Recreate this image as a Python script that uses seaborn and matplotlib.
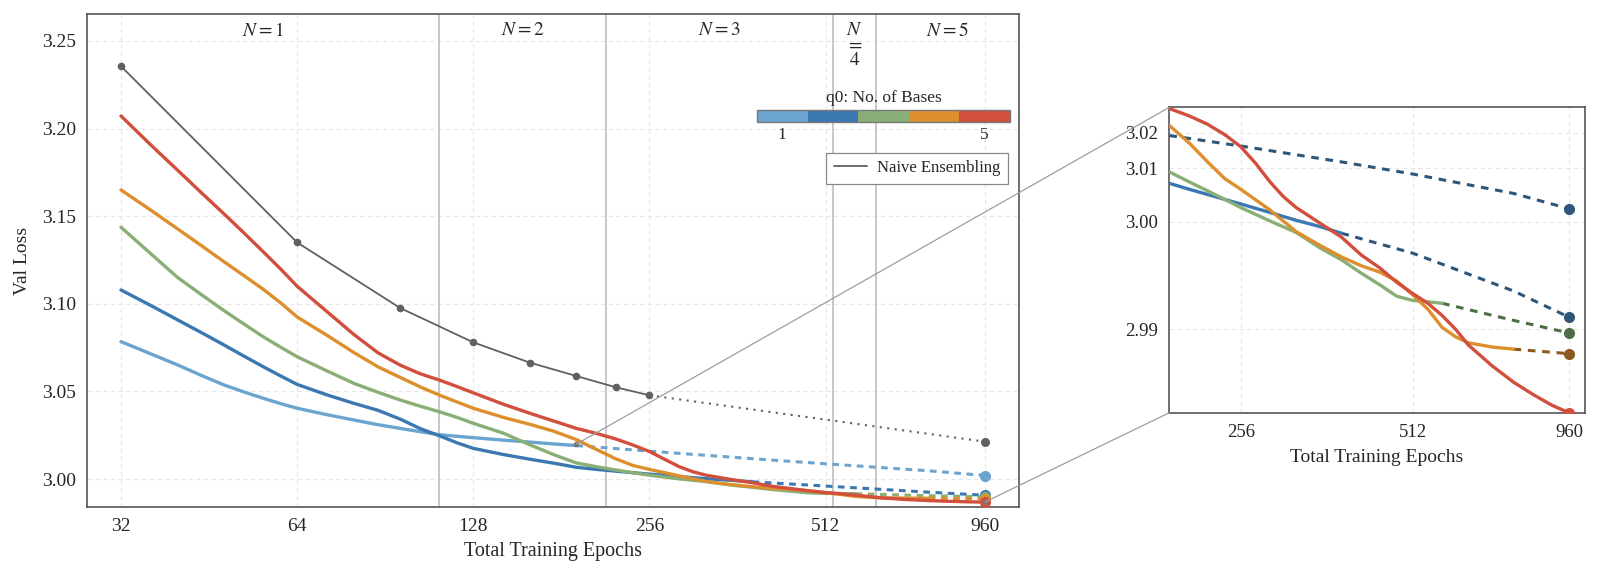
import numpy as np
import pandas as pd
import matplotlib
matplotlib.use("Agg")
import matplotlib.pyplot as plt
import seaborn as sns
from matplotlib.colors import ListedColormap, BoundaryNorm
from matplotlib.colorbar import ColorbarBase
from matplotlib.lines import Line2D
from matplotlib.patches import ConnectionPatch
from matplotlib.ticker import FixedLocator, FixedFormatter, NullLocator

# ---------------- data ----------------
xticks = [32, 64, 128, 256, 512, 960]
yticks_main = [3.00, 3.05, 3.10, 3.15, 3.20, 3.25]
yticks_inset = [2.99, 3.00, 3.01, 3.02]
region_bounds = [112, 216, 528, 624]
region_labels = ["$N=1$", "$N=2$", "$N=3$", "$N=4$", "$N=5$"]

naive_x = [32, 64, 96, 128, 160, 192, 224, 256]
naive_y = [3.2356, 3.1350, 3.0976, 3.0780, 3.0664, 3.0588, 3.0524, 3.0478]
naive_ext_x = [256, 960]
naive_ext_y = [3.0478, 3.0213]

ep_early = [32, 36, 40, 44, 48, 52, 56, 60, 64, 72, 80, 88, 96, 104, 112, 120, 128, 144, 160, 176, 192]
ep_late = [208, 224, 240, 256, 272, 288, 304, 320, 352, 384, 416, 448, 480, 512, 544, 576,
           608, 640, 704, 768, 832, 896, 960]

q1_x = ep_early
q1_y = [3.0784, 3.0714, 3.0651, 3.0590, 3.0537, 3.0496, 3.0461, 3.0430, 3.0404, 3.0367, 3.0337,
        3.0310, 3.0289, 3.0270, 3.0253, 3.0244, 3.0236, 3.0222, 3.0211, 3.0200, 3.0191]
q1_ext_x = [192, 256, 384, 512, 768, 960]
q1_ext_y = [3.0191, 3.0159, 3.0116, 3.0087, 3.0047, 3.0020]

q2_x = ep_early + [208, 224, 240, 256, 288, 320, 352, 384]
q2_y = [3.1079, 3.0990, 3.0908, 3.0834, 3.0765, 3.0700, 3.0641, 3.0588, 3.0540, 3.0480, 3.0432,
        3.0392, 3.0342, 3.0287, 3.0247, 3.0207, 3.0175, 3.0140, 3.0113, 3.0090, 3.0067,
        3.0055, 3.0045, 3.0036, 3.0028, 3.0014, 3.0002, 2.9993, 2.9984]
q2_ext_x = [384, 512, 768, 960]
q2_ext_y = [2.9984, 2.9960, 2.9925, 2.9907]

q3_x = ep_early + [208, 224, 240, 256, 288, 320, 352, 384, 416, 448, 480, 512, 544, 576]
q3_y = [3.1437, 3.1285, 3.1150, 3.1050, 3.0961, 3.0883, 3.0812, 3.0752, 3.0698, 3.0617, 3.0546,
        3.0495, 3.0451, 3.0415, 3.0384, 3.0352, 3.0318, 3.0262, 3.0195, 3.0138, 3.0092,
        3.0070, 3.0052, 3.0036, 3.0022, 3.0001, 2.9985, 2.9966, 2.9953, 2.9940, 2.9930,
        2.9921, 2.9918, 2.9917, 2.9916]
q3_ext_x = [576, 768, 960]
q3_ext_y = [2.9916, 2.9905, 2.9898]

q4_x = ep_early + [208, 224, 240, 256, 288, 320, 352, 384, 416, 448, 480, 512, 544, 576, 608,
                   640, 704, 768]
q4_y = [3.1650, 3.1534, 3.1427, 3.1330, 3.1240, 3.1159, 3.1083, 3.1005, 3.0925, 3.0820, 3.0722,
        3.0640, 3.0580, 3.0525, 3.0479, 3.0440, 3.0404, 3.0352, 3.0312, 3.0272, 3.0225,
        3.0168, 3.0116, 3.0077, 3.0055, 3.0018, 2.9986, 2.9969, 2.9956, 2.9947, 2.9941,
        2.9933, 2.9922, 2.9912, 2.9901, 2.9896, 2.9893, 2.9891, 2.9890]
q4_ext_x = [768, 960]
q4_ext_y = [2.9890, 2.9888]

q5_x = ep_early + ep_late
q5_y = [3.2072, 3.1906, 3.1762, 3.1631, 3.1513, 3.1402, 3.1297, 3.1198, 3.1100, 3.0955, 3.0825,
        3.0720, 3.0650, 3.0600, 3.0565, 3.0528, 3.0492, 3.0427, 3.0375, 3.0330, 3.0289,
        3.0260, 3.0229, 3.0194, 3.0157, 3.0112, 3.0070, 3.0041, 3.0022, 2.9998, 2.9979,
        2.9958, 2.9945, 2.9932, 2.9923, 2.9916, 2.9908, 2.9900, 2.9892, 2.9883, 2.9877,
        2.9873, 2.9870, 2.9868]

series = [
    (q1_x, q1_y, q1_ext_x, q1_ext_y),
    (q2_x, q2_y, q2_ext_x, q2_ext_y),
    (q3_x, q3_y, q3_ext_x, q3_ext_y),
    (q4_x, q4_y, q4_ext_x, q4_ext_y),
    (q5_x, q5_y, [960], [2.9868]),
]
colors = ["#6BA4CE", "#3B78B2", "#8AAF76", "#DD8F2D", "#D24F3D"]
dark_colors = ["#2E5679", "#2E5679", "#4F6D46", "#8A5A1E", "#D24F3D"]
naive_color = "#606060"

# ---------------- style ----------------
sns.set_style("white")
plt.rcParams["font.family"] = ["Liberation Serif", "DejaVu Serif"]
plt.rcParams["mathtext.fontset"] = "stix"
plt.rcParams["axes.edgecolor"] = "#555555"

fig = plt.figure(figsize=(16, 5.77), dpi=100)
ax = fig.add_axes([0.0544, 0.1218, 0.5825, 0.8534])
axins = fig.add_axes([0.7308, 0.2847, 0.2598, 0.5293])

C = 2.984
def fwd(y):
    return np.log(np.clip(np.asarray(y, dtype=float) - C, 1e-9, None))
def inv(v):
    return np.exp(v) + C

for a in (ax, axins):
    a.set_xscale("log", base=2)
for a, ls in ((ax, 14), (axins, 13.5)):
    for s in a.spines.values():
        s.set_linewidth(1.2)
        s.set_color("#555555")
    a.grid(True, which="major", ls=(0, (4, 3)), color="#e6e6e6", lw=0.8)
    a.tick_params(axis="both", which="major", direction="out", length=4, width=1,
                  color="#555555", labelsize=ls, pad=4)
    a.set_axisbelow(True)

# region separators
for b in region_bounds:
    ax.axvline(b, color="#bdbdbd", lw=1.2, zorder=1)

# colored curves (main)
for (sx, sy, ex, ey), c in zip(series, colors):
    sns.lineplot(x=sx, y=sy, ax=ax, color=c, lw=2.4, estimator=None, sort=False, zorder=4)
    if len(ex) > 1:
        sns.lineplot(x=ex, y=ey, ax=ax, color=c, lw=2.2, ls=(0, (2.2, 1.8)),
                     estimator=None, sort=False, zorder=3)
    ax.plot([ex[-1]], [ey[-1]], "o", color=c, ms=7, zorder=5)

# naive ensembling
sns.lineplot(x=naive_x, y=naive_y, ax=ax, color=naive_color, lw=1.3, marker="o", ms=5.5,
             markeredgewidth=0, estimator=None, sort=False, zorder=4)
sns.lineplot(x=naive_ext_x, y=naive_ext_y, ax=ax, color=naive_color, lw=1.5, ls=(0, (1, 2.6)),
             estimator=None, sort=False, zorder=3)
ax.plot([naive_ext_x[-1]], [naive_ext_y[-1]], "o", color=naive_color, ms=5.5, zorder=5)

ax.set_xlim(28, 1096)
ax.set_ylim(2.9842, 3.2652)
ax.xaxis.set_major_locator(FixedLocator(xticks))
ax.xaxis.set_major_formatter(FixedFormatter([str(t) for t in xticks]))
ax.xaxis.set_minor_locator(NullLocator())
ax.set_yticks(yticks_main)
ax.set_yticklabels([f"{t:.2f}" for t in yticks_main])
ax.set_xlabel("Total Training Epochs", fontsize=14.5, labelpad=5)
ax.set_ylabel("Val Loss", fontsize=14, labelpad=8)

# region labels
bounds = [28] + region_bounds + [1096]
for i, lab in enumerate(region_labels):
    xc = np.sqrt(bounds[i] * bounds[i + 1])
    if i == 3:
        ax.text(xc, 0.985, "$N$\n$=$\n$4$", transform=ax.get_xaxis_transform(), ha="center",
                va="top", fontsize=14, linespacing=0.85)
    else:
        ax.text(xc, 0.967, lab, transform=ax.get_xaxis_transform(), ha="center", va="center",
                fontsize=14)

# legend
leg = ax.legend(handles=[Line2D([0], [0], color=naive_color, lw=1.3)], labels=["Naive Ensembling"],
                loc="upper right", bbox_to_anchor=(0.988, 0.719), borderaxespad=0,
                fancybox=False, framealpha=1, edgecolor="#888888", fontsize=12,
                handlelength=2.0, handletextpad=0.6, borderpad=0.45)
leg.get_frame().set_linewidth(0.9)

# colorbar legend
cax = fig.add_axes([0.4731, 0.7877, 0.1581, 0.0217])
cmap = ListedColormap(colors)
norm = BoundaryNorm([0.5, 1.5, 2.5, 3.5, 4.5, 5.5], cmap.N)
cb = ColorbarBase(cax, cmap=cmap, norm=norm, orientation="horizontal", ticks=[1, 5])
cb.ax.minorticks_off()
cb.ax.tick_params(which="both", length=0, labelsize=12.5, pad=3)
cb.outline.set_edgecolor("#777777")
cb.outline.set_linewidth(1.0)
cax.set_title("q0: No. of Bases", fontsize=12.5, pad=6)

# ---------------- inset ----------------
axins.set_yscale("function", functions=(fwd, inv))
for (sx, sy, ex, ey), c, dc in zip(series, colors, dark_colors):
    px = [x for x in sx if x >= 192]
    py = [y for x, y in zip(sx, sy) if x >= 192]
    if len(px) > 1:
        sns.lineplot(x=px, y=py, ax=axins, color=c, lw=2.4, estimator=None, sort=False, zorder=4)
    if len(ex) > 1:
        sns.lineplot(x=ex, y=ey, ax=axins, color=dc, lw=2.2, ls=(0, (2.5, 2.2)),
                     estimator=None, sort=False, zorder=3)
    axins.plot([ex[-1]], [ey[-1]], "o", color=dc, ms=7, zorder=5)

axins.set_xlim(192, 1024)
axins.set_ylim(2.9868, 3.0294)
axins.xaxis.set_major_locator(FixedLocator([256, 512, 960]))
axins.xaxis.set_major_formatter(FixedFormatter(["256", "512", "960"]))
axins.xaxis.set_minor_locator(NullLocator())
axins.yaxis.set_major_locator(FixedLocator(yticks_inset))
axins.yaxis.set_major_formatter(FixedFormatter([f"{t:.2f}" for t in yticks_inset]))
axins.yaxis.set_minor_locator(NullLocator())
axins.set_xlabel("Total Training Epochs", fontsize=14, labelpad=6)
axins.set_ylabel("")

# connectors
for (mx, my), corner in [((192, 3.0199), (0, 1)), ((960, 2.9870), (0, 0))]:
    con = ConnectionPatch(xyA=(mx, my), coordsA=ax.transData, xyB=corner,
                          coordsB=axins.transAxes, color="#9e9e9e", lw=0.9, zorder=6)
    fig.add_artist(con)
    ax.plot([mx], [my], "o", color="#777777", ms=3, zorder=6)

fig.savefig("out.png", dpi=100)
